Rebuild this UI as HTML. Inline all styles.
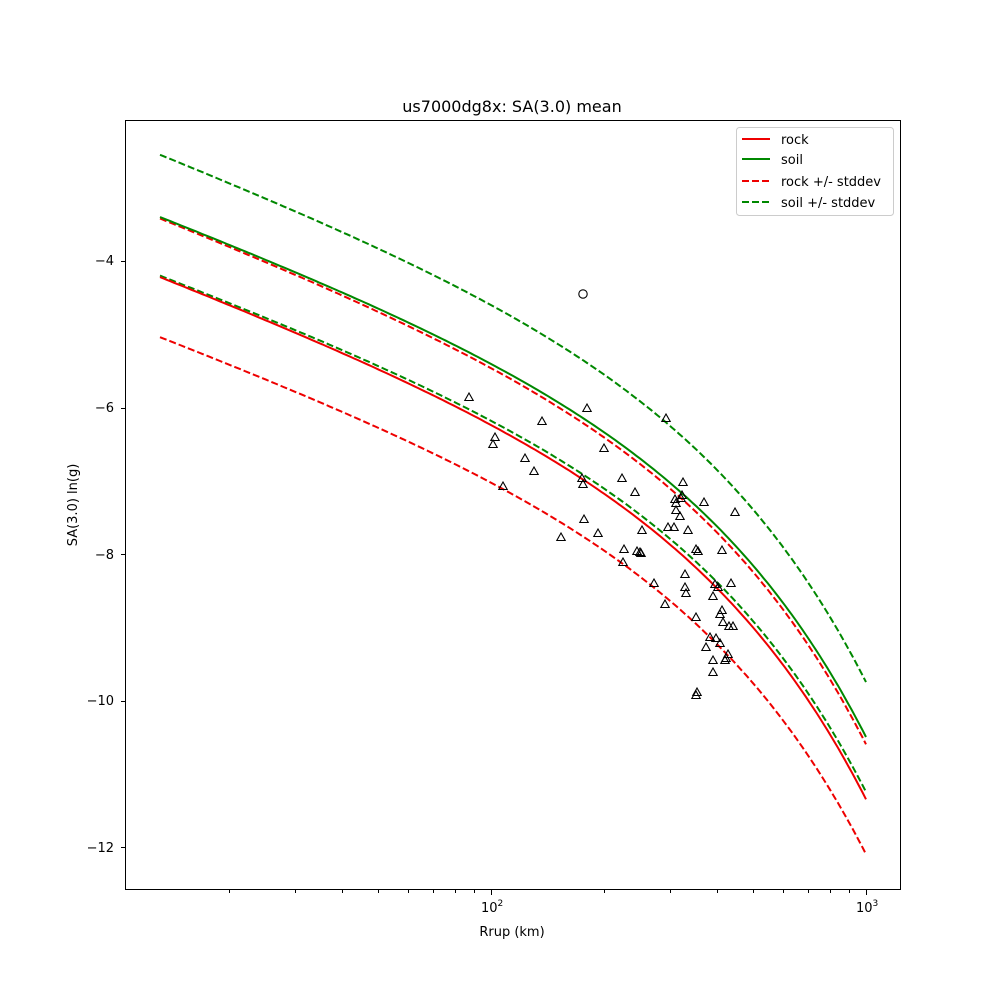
<!DOCTYPE html>
<html><head><meta charset="utf-8"><style>
body{margin:0;background:#fff}
svg text{font-family:"DejaVu Sans","Liberation Sans",sans-serif;fill:#000}
</style></head><body>
<svg id="s" width="1000" height="1000" xmlns="http://www.w3.org/2000/svg">
<rect x="0" y="0" width="1000" height="1000" fill="#fff"/>
<g id="curves"></g>
<g id="pts" fill="none" stroke="#000" stroke-width="1.1"></g>
<rect x="125.5" y="120.5" width="775" height="769" fill="none" stroke="#000" stroke-width="1"/>
<g id="ticks" stroke="#000" stroke-width="1"></g>
<g font-size="13">
<g text-anchor="end">
<text x="114" y="265">−4</text>
<text x="114" y="412">−6</text>
<text x="114" y="559">−8</text>
<text x="114" y="705">−10</text>
<text x="114" y="852">−12</text>
</g>
<text x="481" y="912">10<tspan dy="-6" font-size="9">2</tspan></text>
<text x="856" y="912">10<tspan dy="-6" font-size="9">3</tspan></text>
<text x="512" y="936" text-anchor="middle">Rrup (km)</text>
<text transform="translate(77,505) rotate(-90)" text-anchor="middle">SA(3.0) ln(g)</text>
</g>
<text x="512" y="112" text-anchor="middle" font-size="16">us7000dg8x: SA(3.0) mean</text>
<g>
<rect x="736.5" y="127.5" width="157" height="88" rx="3" fill="#fff" stroke="#ccc"/>
<line x1="742" y1="139" x2="770" y2="139" stroke="#e00" stroke-width="2"/>
<line x1="742" y1="159" x2="770" y2="159" stroke="#080" stroke-width="2"/>
<line x1="742" y1="181" x2="770" y2="181" stroke="#e00" stroke-width="2" stroke-dasharray="7,3"/>
<line x1="742" y1="202" x2="770" y2="202" stroke="#080" stroke-width="2" stroke-dasharray="7,3"/>
<g font-size="13"><text x="781" y="144">rock</text><text x="781" y="164">soil</text><text x="781" y="186">rock +/- stddev</text><text x="781" y="207">soil +/- stddev</text></g>
</g>
</svg>
<script>
var NS="http://www.w3.org/2000/svg";
function X(r){return 491+375*Math.log10(r/100);}
function Y(v){return 261+(-4-v)*73.25;}
function f(r){return -2.005-0.843*Math.log(r)-0.00352*r;}
var cg=document.getElementById("curves");
var L0=Math.log10(13.1);
// offsets [start,end]
var series=[[[-0.82,-0.75],"#e00",1],[[0.80,0.75],"#e00",1],[[0.02,0.10],"#080",1],[[1.67,1.60],"#080",1],[[0,0],"#e00",0],[[0.82,0.85],"#080",0]];
series.forEach(function(s){var d="";for(var i=0;i<=200;i++){var t=i/200;var lr=L0+t*(3-L0);var r=Math.pow(10,lr);var o=s[0][0]+(s[0][1]-s[0][0])*t;d+=(i?"L":"M")+X(r).toFixed(1)+","+Y(f(r)+o).toFixed(1);}
var p=document.createElementNS(NS,"path");p.setAttribute("d",d);p.setAttribute("fill","none");p.setAttribute("stroke",s[1]);p.setAttribute("stroke-width","2");if(s[2])p.setAttribute("stroke-dasharray","7,3");cg.appendChild(p);});
var pts=[[469,397],[493,444],[495,437],[503,486],[525,458],[534,471],[542,421],[561,537],[582,478],[583,484],[584,519],[587,408],[598,533],[604,448],[622,478],[623,562],[624,549],[635,492],[637,551],[640,552],[641,553],[642,530],[654,583],[665,604],[666,418],[668,527],[674,527],[675,499],[676,510],[676,503],[680,516],[681,498],[682,495],[683,482],[685,574],[685,587],[686,593],[688,530],[696,617],[696,549],[698,551],[697,692],[696,695],[704,502],[706,647],[710,637],[713,660],[713,672],[713,596],[715,584],[716,638],[718,587],[720,614],[720,643],[722,610],[722,550],[723,622],[725,660],[726,658],[728,654],[729,626],[731,583],[733,626],[735,512]];
var pg=document.getElementById("pts");
pts.forEach(function(p){var t=document.createElementNS(NS,"polygon");var x=p[0],y=p[1];t.setAttribute("points",(x)+","+(y-4)+" "+(x-4.2)+","+(y+3.5)+" "+(x+4.2)+","+(y+3.5));pg.appendChild(t);});
var c=document.createElementNS(NS,"circle");c.setAttribute("cx",583);c.setAttribute("cy",294);c.setAttribute("r",4.2);pg.appendChild(c);
var tg=document.getElementById("ticks");
function ln(x1,y1,x2,y2){var l=document.createElementNS(NS,"line");l.setAttribute("x1",x1);l.setAttribute("y1",y1);l.setAttribute("x2",x2);l.setAttribute("y2",y2);tg.appendChild(l);}
[-4,-6,-8,-10,-12].forEach(function(v){var y=Math.round(Y(v))+0.5;ln(121,y,125,y);});
[100,1000].forEach(function(r){var x=Math.round(X(r))+0.5;ln(x,890,x,895);});
[20,30,40,50,60,70,80,90,200,300,400,500,600,700,800,900].forEach(function(r){var x=Math.round(X(r))+0.5;ln(x,890,x,893);});
</script>
</body></html>
